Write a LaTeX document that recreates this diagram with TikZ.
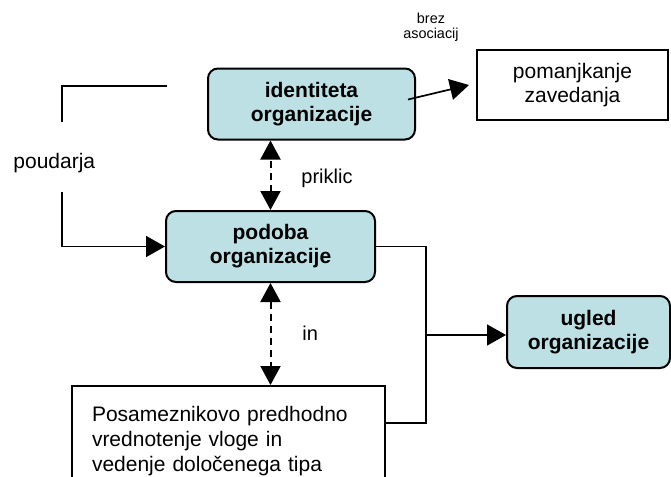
\documentclass[tikz,border=0pt]{standalone}
\usepackage{fontspec}
\setmainfont{Liberation Sans}
\usetikzlibrary{arrows.meta}
\definecolor{boxteal}{RGB}{188,224,227}
\tikzset{
	tealbox/.style={draw, line width=1pt, fill=boxteal, rounded corners=5pt, align=center, font=\fontsize{10.5}{12}\selectfont\bfseries},
	plainbox/.style={draw, line width=1pt, fill=white},
	arr/.style={line width=0.85pt, -{Triangle[length=9.5pt,width=10.5pt]}},
	dasharr/.style={line width=1pt, dash pattern=on 3.5pt off 2.5pt, {Triangle[length=9.5pt,width=10pt]}-{Triangle[length=9.5pt,width=10pt]}},
	lbl/.style={font=\fontsize{10}{12}\selectfont, anchor=base west, inner sep=0pt}
}

\begin{document}
\begin{tikzpicture}[x=0.5pt, y=-0.5pt]
			%%%%% START %%%%%
			\useasboundingbox (0, 0) rectangle (671, 477);
			\clip (0, 0) rectangle (671, 477);
			
			\node[tealbox, minimum width=103.5pt, minimum height=35.5pt] (idn) at (311.5, 104) {identiteta\\organizacije};
			\node[tealbox, minimum width=104.5pt, minimum height=35.5pt] (pod) at (270.5, 246.5) {podoba\\organizacije};
			\node[tealbox, minimum width=81.5pt, minimum height=36pt] (ugl) at (588.5, 332) {ugled\\organizacije};
			
			\node[plainbox, minimum width=95.5pt, minimum height=35pt, align=center, font=\fontsize{10.5}{12}\selectfont] (pom) at (572.5, 85) {pomanjkanje\\zavedanja};
			\node[plainbox, minimum width=156.5pt, minimum height=55pt, text width=136.5pt, align=left, inner xsep=10pt, font=\fontsize{10.5}{12.5}\selectfont] (pos) at (228.5, 441) {Posameznikovo predhodno\\vrednotenje vloge in\\vedenje določenega tipa};
			
			\node[align=center, inner sep=0pt, font=\fontsize{7.2}{7.5}\selectfont] (brz) at (431, 27) {brez\\asociacij};
			\node[lbl, font=\fontsize{10.5}{12}\selectfont] (pou) at (13, 168) {poudarja};
			\node[lbl] (prk) at (301, 183) {priklic};
			\node[lbl] (in) at (302, 340) {in};
			
			% poudarja
			\coordinate (bt) at (167, 86);
			\coordinate (bl) at (62, 192);
			\draw[line width=0.85pt] (bt) -- (62, 86) -- (62, 122);
			\draw[arr] (bl) |- (pod.west);
			
			\draw[arr] ([xshift=-4pt, yshift=2.25pt]idn.east) -- ([xshift=-3.5pt]pom.west);
			\draw[dasharr] (pod.north) -- (pod.north |- idn.south);
			\draw[dasharr] (pod.south) -- (pod.south |- pos.north);
			
			\coordinate (jn) at (426, 335);
			\draw[line width=0.85pt] (pod.east) -| (jn) |- (pos.east |- 0, 423);
			\draw[arr] (jn) -- (jn -| ugl.west);
			
			%%%%% END %%%%%
		\end{tikzpicture}
\end{document}
